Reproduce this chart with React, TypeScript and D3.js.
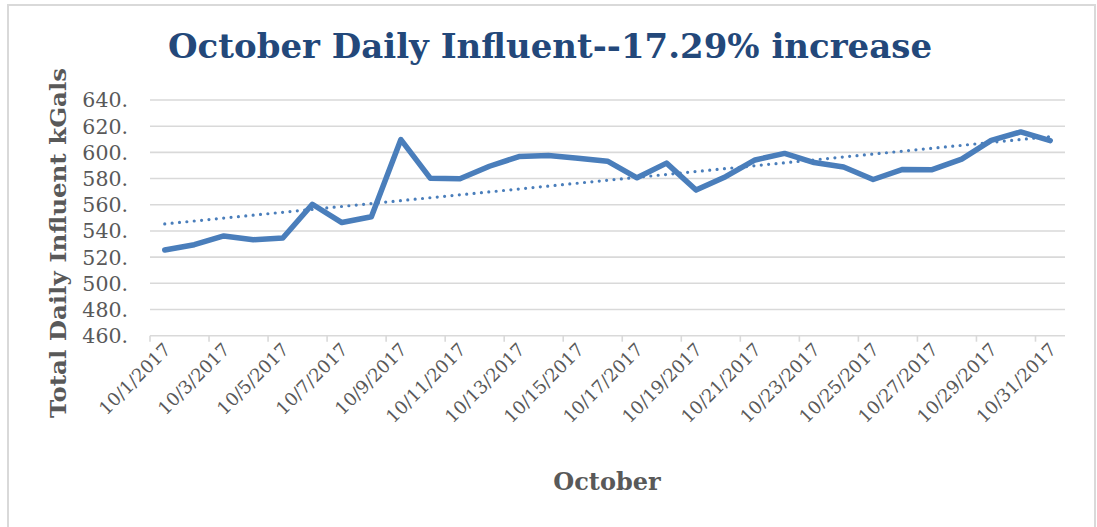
import React from "react";
import * as d3 from "d3";

const categories = [
  "10/1/2017","10/2/2017","10/3/2017","10/4/2017","10/5/2017","10/6/2017","10/7/2017","10/8/2017",
  "10/9/2017","10/10/2017","10/11/2017","10/12/2017","10/13/2017","10/14/2017","10/15/2017","10/16/2017",
  "10/17/2017","10/18/2017","10/19/2017","10/20/2017","10/21/2017","10/22/2017","10/23/2017","10/24/2017",
  "10/25/2017","10/26/2017","10/27/2017","10/28/2017","10/29/2017","10/30/2017","10/31/2017",
];
const influent = [
  525.5, 529.5, 536.2, 533.3, 534.6, 560.4, 546.4, 550.8, 609.8, 580.2, 579.8, 589.4, 596.8, 597.6, 595.5, 593.3,
  580.6, 591.8, 571.2, 581.4, 594.2, 599.2, 592.2, 588.8, 579.3, 587.0, 586.8, 594.8, 609.2, 615.6, 609.0,
];
const yTicks = [460, 480, 500, 520, 540, 560, 580, 600, 620, 640];
const yTickLabels = ["460.", "480.", "500.", "520.", "540.", "560.", "580.", "600.", "620.", "640."];

const TITLE = "October Daily Influent--17.29% increase";
const Y_TITLE = "Total Daily Influent kGals";
const X_TITLE = "October";

export default function App() {
  const W = 1097, H = 527;
  const left = 150, right = 1065, top = 100, bottom = 335.7;
  const x = d3.scaleBand<string>().domain(categories).range([left, right]).padding(0);
  const y = d3.scaleLinear().domain([460, 640]).range([bottom, top]);
  const bw = x.bandwidth();
  const cx = (c: string) => (x(c) as number) + bw / 2;

  const line = d3.line<number>().x((_, i) => cx(categories[i])).y((d) => y(d));

  // linear trendline (least squares) derived from the series
  const n = influent.length;
  const idx = influent.map((_, i) => i + 1);
  const mx = d3.mean(idx) as number;
  const my = d3.mean(influent) as number;
  const slope = d3.sum(idx.map((t, i) => (t - mx) * (influent[i] - my))) / d3.sum(idx.map((t) => (t - mx) ** 2));
  const icpt = my - slope * mx;
  const trend = [icpt + slope * 1, icpt + slope * n];

  const gray = "#595959";
  const grid = "#D9D9D9";
  const blue = "#4A7EBB";
  const font = "'DejaVu Serif', Georgia, serif";

  return (
    <svg width={W} height={H} style={{ position: "absolute", left: 0, top: 0, background: "#fff" }} fontFamily={font}>
      <rect x={0} y={0} width={W} height={H} fill="#fff" />
      <rect x={8} y={5} width={1087} height={560} fill="none" stroke={grid} strokeWidth={2} />
      <text x={550} y={58} textAnchor="middle" fontSize={34} fontWeight="bold" fill="#23487A"
        textLength={764} lengthAdjust="spacingAndGlyphs">{TITLE}</text>

      {yTicks.map((t, i) => (
        <g key={t}>
          <line x1={left} x2={right} y1={y(t)} y2={y(t)} stroke={grid} strokeWidth={1.6} />
          <text x={128} y={y(t)} dy="0.36em" textAnchor="end" fontSize={20.5} fill={gray}>{yTickLabels[i]}</text>
        </g>
      ))}
      {categories.map((c, i) =>
        i % 2 === 0 ? (
          <line key={"t" + c} x1={x(c) as number} x2={x(c) as number} y1={bottom} y2={bottom + 6} stroke={grid} strokeWidth={1.6} />
        ) : null
      )}
      {categories.map((c, i) =>
        i % 2 === 0 ? (
          <text key={"l" + c} transform={`translate(${cx(c) + 7},${bottom + 15}) rotate(-45)`} textAnchor="end"
            fontSize={18} fill={gray}>{c}</text>
        ) : null
      )}

      <line x1={cx(categories[0])} x2={cx(categories[n - 1])} y1={y(trend[0])} y2={y(trend[1])}
        stroke={blue} strokeWidth={3.2} strokeDasharray="0 7.4" strokeLinecap="round" />
      <path d={line(influent) as string} fill="none" stroke={blue} strokeWidth={5.5} strokeLinejoin="round" strokeLinecap="round" />

      <text transform={`translate(66,243) rotate(-90)`} textAnchor="middle" fontSize={22} fontWeight="bold" fill={gray}
        textLength={350} lengthAdjust="spacingAndGlyphs">{Y_TITLE}</text>
      <text x={607} y={490} textAnchor="middle" fontSize={24} fontWeight="bold" fill={gray}>{X_TITLE}</text>
    </svg>
  );
}
